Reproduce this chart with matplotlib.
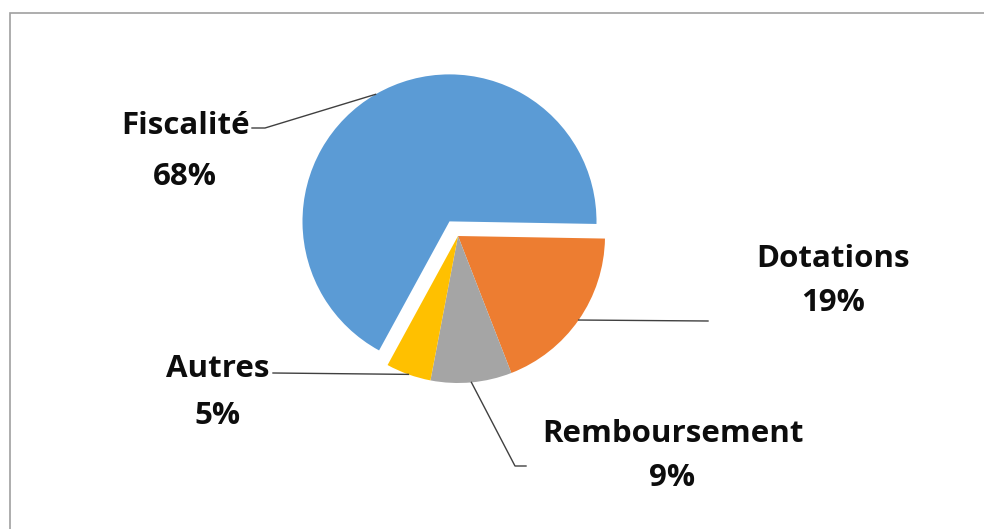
import numpy as np
import matplotlib
matplotlib.use('Agg')
import matplotlib.pyplot as plt
from matplotlib.patches import Rectangle

# donnees
categories = ['Fiscalité', 'Dotations', 'Remboursement', 'Autres']
valeurs = [68, 19, 9, 5]
pourcentages = ['68%', '19%', '9%', '5%']
couleurs = ['#5B9BD5', '#ED7D31', '#A5A5A5', '#FFC000']

W, H = 984, 529
fig = plt.figure(figsize=(W / 100, H / 100), dpi=100)
ax = fig.add_axes([0, 0, 1, 1])

centre = (458, H - 236)
rayon = 147
eclatement = [0.115 * rayon, 0, 0, 0]   # pie prend l'ecart en unites de donnees
debut = -1 + valeurs[0] / sum(valeurs) * 360

parts, _ = ax.pie(valeurs, colors=couleurs, explode=eclatement, startangle=debut,
                  counterclock=False, radius=rayon, center=centre,
                  wedgeprops=dict(linewidth=0))

ax.set_xlim(0, W)
ax.set_ylim(0, H)
ax.set_aspect('equal')
ax.axis('off')

# cadre gris
ax.add_patch(Rectangle((10, -20), W + 20, H - 13 + 20, fill=False,
                       edgecolor='#A0A0A0', linewidth=1.2, clip_on=False))

# position des etiquettes (pixels de l'image, y vers le bas)
pos_nom = [(186, 126), (833, 259), (673, 434), (218, 369)]
pos_pct = [(185, 177), (833, 303), (672, 478), (218, 416)]
# lignes de rappel : points cote texte
cote_texte = [[(252, 128), (265, 128)], [(708, 321)], [(526, 466), (515, 466)], [(273, 373)]]

police = dict(family=['Open Sans', 'DejaVu Sans'], fontweight='bold', fontsize=22.5, color='#0d0d0d')

for i, p in enumerate(parts):
    ang = np.deg2rad((p.theta1 + p.theta2) / 2)
    cx, cy = p.center
    bord = (cx + p.r * np.cos(ang), cy + p.r * np.sin(ang))
    pts = [(x, H - y) for x, y in cote_texte[i]] + [bord]
    xs, ys = zip(*pts)
    ax.plot(xs, ys, color='#404040', linewidth=1)
    ax.text(pos_nom[i][0], H - pos_nom[i][1], categories[i], ha='center', va='center', **police)
    ax.text(pos_pct[i][0], H - pos_pct[i][1], pourcentages[i], ha='center', va='center', **police)

fig.savefig('out.png', dpi=100)
